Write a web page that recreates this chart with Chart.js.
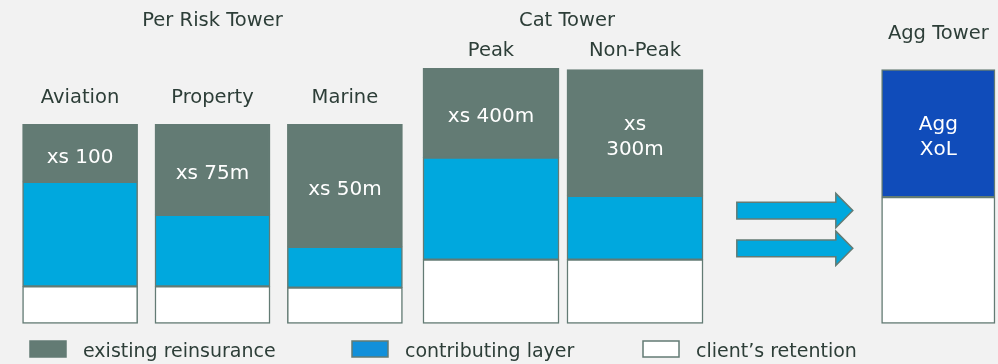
<!DOCTYPE html>
<html>
<head>
<meta charset="utf-8">
<script src="https://cdn.jsdelivr.net/npm/chart.js@4"></script>
<style>
  html, body { margin: 0; padding: 0; background: #f2f2f2; }
</style>
</head>
<body>
<canvas id="towers" width="998" height="364"></canvas>
<script>
const groups = ["Per Risk Tower", "Cat Tower", "Agg Tower"];
const towers = ["Aviation", "Property", "Marine", "Peak", "Non-Peak", "Agg"];
const towerGroup = [0, 0, 0, 1, 1, 2];
const towerTitles = ["Aviation", "Property", "Marine", "Peak", "Non-Peak", ""];
const layerText = ["xs 100", "xs 75m", "xs 50m", "xs 400m", ["xs", "300m"], ["Agg", "XoL"]];

// layer heights from bottom to top, no axis on the slide so 100 = top of Peak
const retention = [14.5, 14.5, 14, 25, 25, 49.5];
const contributing = [41, 28, 16, 40, 25, null];
const existing = [22.5, 35.5, 48, 35, 49.5, null];
const aggXol = [null, null, null, null, null, 50];

const GREY = "#637b74";
const BLUE = "#00a8de";
const NAVY = "#104cba";
const TEXT = "#2d3e38";
const FONT = "'DejaVu Sans', sans-serif";

const layers = [
  { label: "client\u2019s retention", values: retention, color: "#ffffff" },
  { label: "contributing layer", values: contributing, color: BLUE, swatch: "#1290da" },
  { label: "existing reinsurance", values: existing, color: GREY },
  { label: "Agg XoL", values: aggXol, color: NAVY },
];
const legendOrder = ["existing reinsurance", "contributing layer", "client\u2019s retention"];

// bar width / spacing inside each group (Agg sits in the last of six slots)
const groupBars = [
  { categoryPercentage: 1.1333, barPercentage: 0.868, skipNull: true },
  { categoryPercentage: 0.8217, barPercentage: 0.944, skipNull: true },
  { categoryPercentage: 0.1698, barPercentage: 11.42, skipNull: false },
];

const datasets = [];
layers.forEach(layer => {
  towers.forEach((tower, t) => {
    if (layer.values[t] == null) return;
    datasets.push({
      label: layer.label,
      stack: tower,
      data: groups.map((g, gi) => (gi === towerGroup[t] ? layer.values[t] : null)),
      backgroundColor: layer.color,
      borderColor: GREY,
      borderWidth: 1.5,
      borderSkipped: false,
      inflateAmount: 0.4,
      clip: false,
      ...groupBars[towerGroup[t]],
    });
  });
});

const background = {
  id: "background",
  beforeDraw(chart) {
    const { ctx } = chart;
    ctx.save();
    ctx.fillStyle = "#f2f2f2";
    ctx.fillRect(0, 0, chart.width, chart.height);
    ctx.restore();
  },
};

function topBar(chart, t) {
  let idx = -1;
  chart.data.datasets.forEach((d, i) => {
    if (d.stack === towers[t]) idx = i;
  });
  return chart.getDatasetMeta(idx).data[towerGroup[t]];
}

const towerLabels = {
  id: "towerLabels",
  afterDatasetsDraw(chart) {
    const { ctx, scales } = chart;
    ctx.save();
    ctx.textAlign = "center";
    ctx.textBaseline = "alphabetic";

    // text inside the top layer
    ctx.fillStyle = "#ffffff";
    ctx.font = "20px " + FONT;
    towers.forEach((tower, t) => {
      const bar = topBar(chart, t);
      const mid = (bar.y + bar.base) / 2;
      const lines = [].concat(layerText[t]);
      lines.forEach((line, i) => {
        ctx.fillText(line, bar.x, mid + 9.5 + (i - (lines.length - 1) / 2) * 24.7);
      });
    });

    // tower and group titles
    ctx.fillStyle = TEXT;
    ctx.font = "19.5px " + FONT;
    const titleBase = [102.7, 102.7, 102.7, 56, 56, 0];
    towers.forEach((tower, t) => {
      if (!towerTitles[t]) return;
      const bar = topBar(chart, t);
      ctx.fillText(towerTitles[t], bar.x, titleBase[t]);
    });
    const groupBase = [26, 26, 39];
    groups.forEach((g, gi) => {
      const members = towers.map((tw, t) => t).filter(t => towerGroup[t] === gi);
      const a = topBar(chart, members[0]);
      const b = topBar(chart, members[members.length - 1]);
      ctx.fillText(g, (a.x + b.x) / 2 + (gi === 1 ? 4 : 0), groupBase[gi]);
    });

    // arrows from the Cat tower into the Agg tower
    const left = topBar(chart, 4);
    const right = topBar(chart, 5);
    const m = (left.x + left.width / 2 + right.x - right.width / 2) / 2;
    const x0 = m - 55.5, x1 = m + 60.5, head = 17;
    ctx.fillStyle = BLUE;
    ctx.strokeStyle = GREY;
    ctx.lineWidth = 1.5;
    [44.2, 29.4].forEach(v => {
      const y = scales.y.getPixelForValue(v);
      ctx.beginPath();
      ctx.moveTo(x0, y - 8.3);
      ctx.lineTo(x1 - head, y - 8.3);
      ctx.lineTo(x1 - head, y - 17.2);
      ctx.lineTo(x1, y);
      ctx.lineTo(x1 - head, y + 17.2);
      ctx.lineTo(x1 - head, y + 8.3);
      ctx.lineTo(x0, y + 8.3);
      ctx.closePath();
      ctx.fill();
      ctx.stroke();
    });

    // legend
    const legendX = [30, 352, 643];
    ctx.textAlign = "left";
    ctx.font = "19px " + FONT;
    legendOrder.forEach((name, i) => {
      const layer = layers.find(l => l.label === name);
      ctx.fillStyle = layer.swatch || layer.color;
      ctx.fillRect(legendX[i], 341, 36, 16);
      ctx.strokeStyle = GREY;
      ctx.lineWidth = 1.5;
      ctx.strokeRect(legendX[i], 341, 36, 16);
      ctx.fillStyle = TEXT;
      ctx.fillText(name, legendX[i] + 53, 357);
    });
    ctx.restore();
  },
};

new Chart(document.getElementById("towers"), {
  type: "bar",
  data: { labels: groups, datasets },
  options: {
    responsive: false,
    animation: false,
    layout: { padding: { left: 212.5, right: 84.5, top: 42.8, bottom: 40.7 } },
    scales: {
      x: { display: false, stacked: true, offset: false },
      y: { display: false, stacked: true, min: 0, max: 110 },
    },
    plugins: {
      legend: { display: false },
      tooltip: { enabled: false },
    },
  },
  plugins: [background, towerLabels],
});
</script>
</body>
</html>
